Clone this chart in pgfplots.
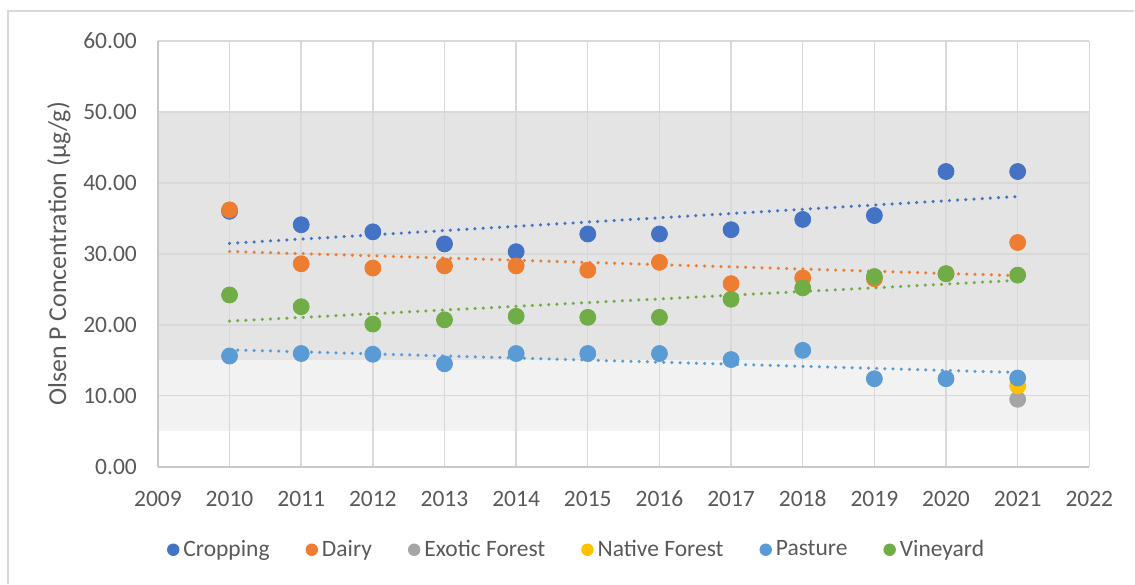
\documentclass[border=0pt]{standalone}
\usepackage{pgfplots}
\usepackage{pgfplotstable}
\pgfplotsset{compat=1.18}
\usepackage{fontspec}
\setmainfont{Carlito}
\definecolor{cCrop}{HTML}{4472C4}
\definecolor{cDairy}{HTML}{ED7D31}
\definecolor{cExotic}{HTML}{A5A5A5}
\definecolor{cNative}{HTML}{FFC000}
\definecolor{cPasture}{HTML}{5B9BD5}
\definecolor{cVine}{HTML}{70AD47}
\definecolor{gridc}{HTML}{D9D9D9}
\definecolor{axc}{HTML}{C8C8C8}
\definecolor{bandA}{HTML}{E4E4E4}
\definecolor{bandB}{HTML}{F2F2F2}
\definecolor{txt}{HTML}{595959}

% X = year, T = years since 2010 (used for the trend fit)
\pgfplotstableread{
X T Y
2010 0 36.0
2011 1 34.1
2012 2 33.1
2013 3 31.4
2014 4 30.3
2015 5 32.8
2016 6 32.8
2017 7 33.4
2018 8 34.85
2019 9 35.4
2020 10 41.6
2021 11 41.6
}\cropping
\pgfplotstableread{
X T Y
2010 0 36.2
2011 1 28.6
2012 2 28.0
2013 3 28.3
2014 4 28.3
2015 5 27.7
2016 6 28.8
2017 7 25.8
2018 8 26.6
2019 9 26.5
2020 10 27.2
2021 11 31.6
}\dairy
\pgfplotstableread{
X T Y
2021 11 9.5
}\exotic
\pgfplotstableread{
X T Y
2021 11 11.4
}\native
\pgfplotstableread{
X T Y
2010 0 15.6
2011 1 15.95
2012 2 15.85
2013 3 14.5
2014 4 15.95
2015 5 15.95
2016 6 15.95
2017 7 15.1
2018 8 16.4
2019 9 12.4
2020 10 12.4
2021 11 12.5
}\pasture
\pgfplotstableread{
X T Y
2010 0 24.2
2011 1 22.55
2012 2 20.1
2013 3 20.7
2014 4 21.2
2015 5 21.05
2016 6 21.05
2017 7 23.6
2018 8 25.2
2019 9 26.8
2020 10 27.2
2021 11 27.0
}\vineyard

\tikzset{trend/.style={line width=1.75pt, dash pattern=on 0pt off 4.1pt, line cap=round}}

\begin{document}
\begin{tikzpicture}
\path (0,0) rectangle (567.5pt,292pt);
\draw[gridc, line width=0.7pt] (4pt,0) -- (4pt,286.5pt) -- (567.5pt,286.5pt);
\begin{axis}[
  set layers,
  at={(79pt,58.5pt)}, anchor=south west,
  scale only axis, width=466pt, height=213pt,
  xmin=2009, xmax=2022, ymin=0, ymax=60,
  xtick={2009,2010,...,2022}, ytick={0,10,...,60},
  grid=major, major grid style={gridc, line width=0.7pt},
  axis x line*=bottom, axis y line*=left,
  axis line style={-, color=axc, line width=0.8pt},
  major tick length=0pt,
  font=\fontsize{11.75pt}{14pt}\selectfont,
  tick label style={color=txt},
  /pgf/number format/assume math mode=true,
  xticklabel style={/pgf/number format/1000 sep={}, yshift=-8.5pt},
  yticklabel style={/pgf/number format/.cd, fixed, fixed zerofill, precision=2, /tikz/.cd, xshift=-7pt},
  ylabel={Olsen P Concentration (μg/g)},
  ylabel style={at={(axis description cs:-0.1062,0.5)}, anchor=center, color=txt,
    font=\fontsize{12.9pt}{15pt}\selectfont},
  legend columns=6,
  legend style={draw=none, fill=none, at={(0.4506,-0.195)}, anchor=center,
    /tikz/every even column/.append style={column sep=16pt}, text=txt,
    font=\fontsize{11.75pt}{14pt}\selectfont},
  legend cell align=left,
  legend image code/.code={\fill[#1] (2.75pt,0pt) circle (2.9pt);},
]
\addplot[draw=none, fill=bandB, forget plot, on layer=axis background] coordinates {(2009,5) (2022,5) (2022,15) (2009,15)} -- cycle;
\addplot[draw=none, fill=bandA, forget plot, on layer=axis background] coordinates {(2009,15) (2022,15) (2022,50) (2009,50)} -- cycle;
\addplot[only marks, mark=*, mark size=4pt, color=cCrop, fill=cCrop] table[x=X,y=Y] {\cropping};
\addlegendentry{Cropping}
\addplot[only marks, mark=*, mark size=4pt, color=cDairy, fill=cDairy] table[x=X,y=Y] {\dairy};
\addlegendentry{Dairy}
\addplot[only marks, mark=*, mark size=4pt, color=cExotic, fill=cExotic] table[x=X,y=Y] {\exotic};
\addlegendentry{Exotic Forest}
\addplot[only marks, mark=*, mark size=4pt, color=cNative, fill=cNative] table[x=X,y=Y] {\native};
\addlegendentry{Native Forest}
\addplot[only marks, mark=*, mark size=4pt, color=cPasture, fill=cPasture] table[x=X,y=Y] {\pasture};
\addlegendentry{Pasture}
\addplot[only marks, mark=*, mark size=4pt, color=cVine, fill=cVine] table[x=X,y=Y] {\vineyard};
\addlegendentry{Vineyard}
\addplot[trend, cCrop, forget plot] table[x=X, y={create col/linear regression={x=T,y=Y}}] {\cropping};
\addplot[trend, cDairy, forget plot] table[x=X, y={create col/linear regression={x=T,y=Y}}] {\dairy};
\addplot[trend, cPasture, forget plot] table[x=X, y={create col/linear regression={x=T,y=Y}}] {\pasture};
\addplot[trend, cVine, forget plot] table[x=X, y={create col/linear regression={x=T,y=Y}}] {\vineyard};
\end{axis}
\end{tikzpicture}
\end{document}
